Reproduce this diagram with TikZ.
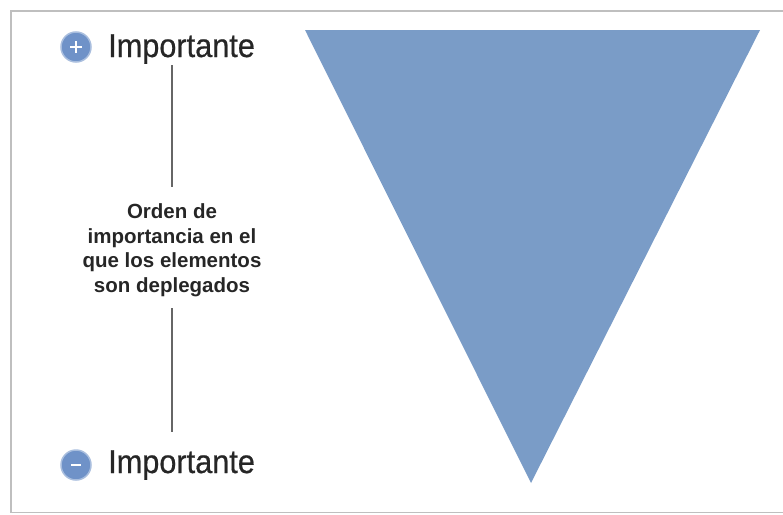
\documentclass[tikz,border=0pt]{standalone}
\usepackage{fontspec}
\setmainfont{Liberation Sans}
\newfontfamily\narrowfont[FakeStretch=0.93,FakeBold=0.6]{Liberation Sans}
\usetikzlibrary{positioning}
\definecolor{funnelblue}{HTML}{7A9CC7}
\definecolor{bulletblue}{HTML}{6F92C8}
\tikzset{bullet/.style={circle,fill=bulletblue,draw=bulletblue!60,line width=1.5pt,minimum size=30pt,inner sep=0pt},
         level/.style={font=\narrowfont\fontsize{33}{33}\selectfont,text=black!85,inner sep=0pt,anchor=base west},
         axis/.style={draw=black!60,line width=2pt},
         sign/.style={white,line width=2pt},
        }

\begin{document}
\begin{tikzpicture}[x=1pt,y=-1pt]
        \useasboundingbox (0,0) rectangle (783,514);
        \draw[black!25,line width=1.5pt](783,11)--(11,11)--(11,512.5)--(783,512.5);

        % funnel
        \fill[funnelblue](305,30)--(760,30)--(531,483)--cycle;

        \node[bullet](plus)at(76,47){};
        \node[bullet](minus)at(76,465){};
        \draw[sign]([xshift=-6pt]plus.center)--([xshift=6pt]plus.center);
        \draw[sign]([yshift=-6pt]plus.center)--([yshift=6pt]plus.center);
        \draw[sign]([xshift=-5pt]minus.center)--([xshift=5pt]minus.center);

        \node[level](high)at(108,57){Importante};
        \node[level](low)at(108,473){Importante};

        \node[align=center,inner sep=0pt,text=black!85,font=\bfseries\fontsize{20.5}{24.5}\selectfont](order)at(172,250)
            {Orden de\\importancia en el\\que los elementos\\son deplegados};

        \coordinate(a1)at(172,65);
        \coordinate(a2)at(172,187);
        \coordinate(b1)at(172,308);
        \coordinate(b2)at(172,432);
        \draw[axis](a1)--(a2);
        \draw[axis](b1)--(b2);
\end{tikzpicture}
\end{document}
